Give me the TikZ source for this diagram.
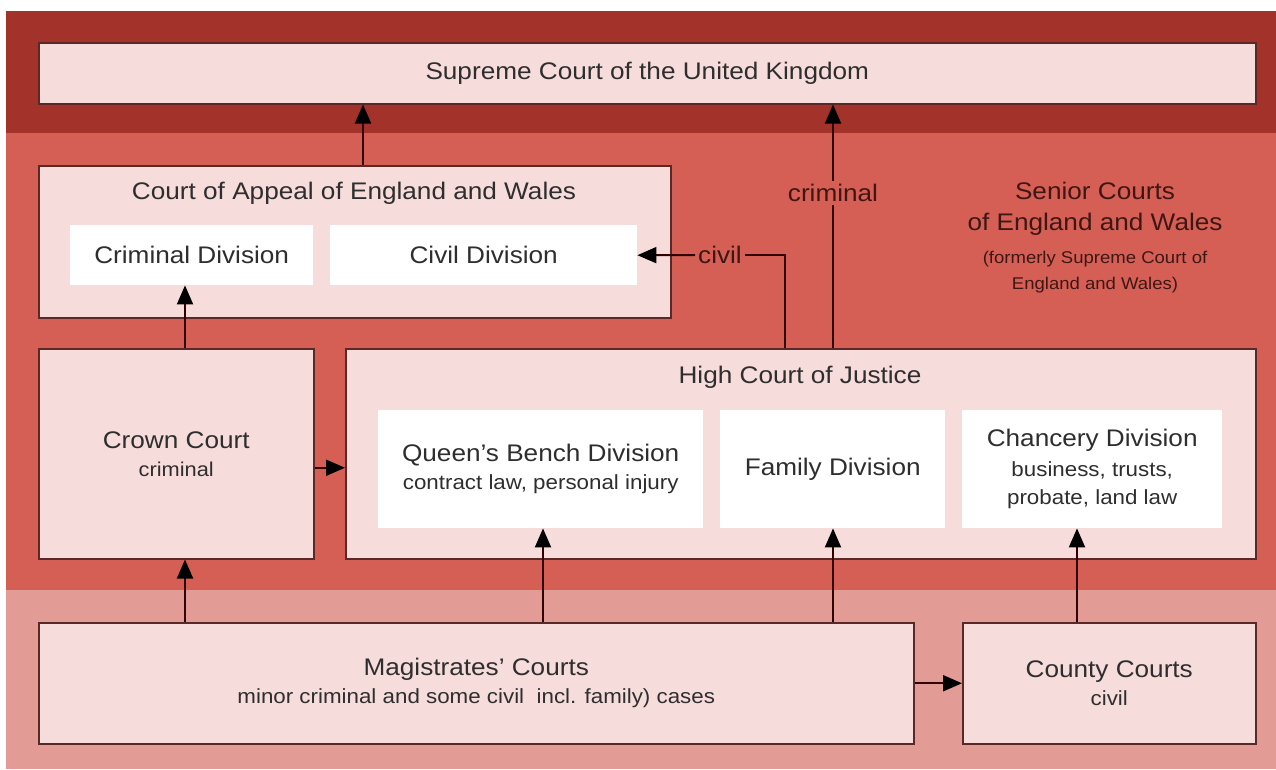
\documentclass[tikz,border=0pt]{standalone}
\usepackage{fontspec}
\setmainfont{Liberation Sans}[FakeStretch=1.09]
\usetikzlibrary{arrows.meta}
\definecolor{topband}{HTML}{A3322B}
\definecolor{midband}{HTML}{D55F55}
\definecolor{lowband}{HTML}{E39B96}
\definecolor{boxfill}{HTML}{F6DCDB}
\definecolor{boxline}{HTML}{5A2826}
\definecolor{inktext}{HTML}{2E2E2E}
\definecolor{bandtext}{HTML}{3E1714}
\tikzset{
  court/.style={draw=boxline, fill=boxfill, line width=1.5pt, inner sep=0pt,
    anchor=north west, align=center, text=inktext, font=\fontsize{24}{34}\selectfont},
  division/.style={fill=white, inner sep=0pt, anchor=north west, align=center,
    text=inktext, font=\fontsize{24}{34}\selectfont},
  link/.style={draw=black!80!red, line width=2pt},
  up/.style={-{Triangle[length=19pt,width=16pt,color=black]}},
  tag/.style={inner sep=3pt, text=bandtext, font=\fontsize{24}{28}\selectfont},
}

\begin{document}
\begin{tikzpicture}[x=1pt, y=-1pt]
\useasboundingbox (0,0) rectangle (1276,769);
% bands
\fill[white] (0,0) rectangle (1276,769);
\fill[topband] (6,11) rectangle (1276,133);
\fill[midband] (6,133) rectangle (1276,590);
\fill[lowband] (6,590) rectangle (1276,769);

% courts
\node[court, minimum width=1217pt, minimum height=61pt] (supreme) at (38,42) {Supreme Court of the United Kingdom};
\node[court, minimum width=632pt, minimum height=152pt] (appeal) at (38,165) {};
\node[text=inktext, font=\fontsize{24}{28}\selectfont] (appealtitle) at (354,193) {Court of Appeal of England and Wales};
\node[division, minimum width=243pt, minimum height=60pt] (crimdiv) at (70,225) {Criminal Division};
\node[division, minimum width=307pt, minimum height=60pt] (civdiv) at (330,225) {Civil Division};

\node[court, minimum width=275pt, minimum height=210pt] (crown) at (38,348) {Crown Court\\[-6pt]{\fontsize{20}{22}\selectfont criminal}};
\node[court, minimum width=910pt, minimum height=210pt] (high) at (345,348) {};
\node[text=inktext, font=\fontsize{24}{28}\selectfont] (hightitle) at (800,377) {High Court of Justice};
\node[division, minimum width=325pt, minimum height=118pt] (qb) at (378,410) {Queen’s Bench Division\\[-6pt]{\fontsize{20.5}{22}\selectfont contract law, personal injury}};
\node[division, minimum width=225pt, minimum height=118pt] (family) at (720,410) {Family Division};
\node[division, minimum width=260pt, minimum height=118pt] (chancery) at (962,410) {Chancery Division\\[-4pt]{\fontsize{20.5}{22}\selectfont business, trusts,}\\[-6pt]{\fontsize{20.5}{22}\selectfont probate, land law}};

\node[court, minimum width=875pt, minimum height=121pt] (magistrates) at (38,622) {Magistrates’ Courts\\[-6pt]{\fontsize{20.5}{22}\selectfont minor criminal and some civil\ \ incl. family) cases}};
\node[court, minimum width=293pt, minimum height=121pt] (county) at (962,622) {County Courts\\[-6pt]{\fontsize{20.5}{22}\selectfont civil}};

% band label
\node[text=bandtext, align=center, font=\fontsize{24}{31}\selectfont] (senior) at (1095,209) {Senior Courts\\of England and Wales};
\node[text=bandtext, align=center, font=\fontsize{17}{26}\selectfont] (formerly) at (1095,272) {(formerly Supreme Court of\\England and Wales)};

% appeals
\draw[link, up] (appeal.north -| 363,0) -- (supreme.south -| 363,0);
\draw[link, up] (crown.north -| 185,0) -- (crimdiv.south -| 185,0);
\draw[link, up] ([yshift=-14pt]crown.east) -- ([yshift=-14pt]crown.east -| high.west);
\node[tag] (crimtag) at (833,193) {criminal};
\draw[link] (high.north -| crimtag.south) -- (crimtag.south);
\draw[link, up] (crimtag.north) -- (supreme.south -| crimtag.north);
\node[tag] (civtag) at (720,255) {civil};
\draw[link] (high.north -| 785,0) |- (civtag.east);
\draw[link, up] (civtag.west) -- (civdiv.east);
\draw[link, up] (magistrates.north -| 185,0) -- (crown.south -| 185,0);
\draw[link, up] (magistrates.north -| 543,0) -- (qb.south -| 543,0);
\draw[link, up] (magistrates.north -| 833,0) -- (family.south -| 833,0);
\draw[link, up] (magistrates.east) -- (county.west);
\draw[link, up] (county.north -| 1077,0) -- (chancery.south -| 1077,0);
\end{tikzpicture}
\end{document}
